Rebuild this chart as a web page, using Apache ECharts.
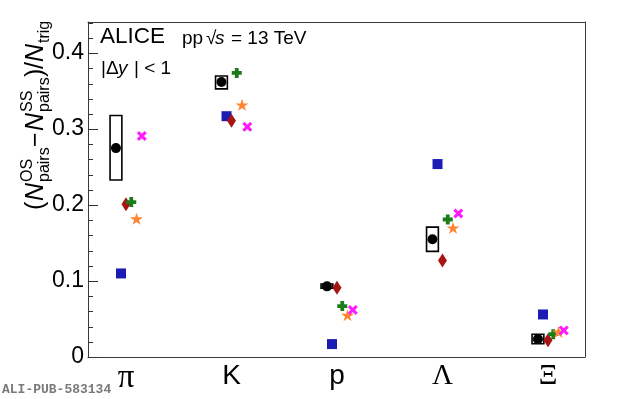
<!DOCTYPE html>
<html>
<head>
<meta charset="utf-8">
<script src="https://cdn.jsdelivr.net/npm/echarts@6/dist/echarts.min.js"></script>
<style>
html,body{margin:0;padding:0;background:#fff;}
#chart{width:620px;height:399px;}
</style>
</head>
<body>
<div id="chart"></div>
<script>
// ---- data ----
const categories = ['π', 'K', 'p', 'Λ', 'Ξ'];
const aliceData    = [0.275, 0.362, 0.093, 0.155, 0.0235];
const aliceSysLow  = [0.233, 0.353, 0.0905, 0.139, 0.0175];
const aliceSysHigh = [0.318, 0.370, 0.096, 0.171, 0.030];
const modelBlue    = [0.110, 0.317, 0.017, 0.254, 0.056];
const modelRed     = [0.201, 0.311, 0.091, 0.127, 0.022];
const modelGreen   = [0.204, 0.374, 0.067, 0.181, 0.030];
const modelOrange  = [0.182, 0.332, 0.055, 0.170, 0.033];
const modelMagenta = [0.291, 0.303, 0.062, 0.189, 0.035];
const yTickValues  = [0, 0.1, 0.2, 0.3, 0.4];
const yTickLabels  = ['0', '0.1', '0.2', '0.3', '0.4'];
const yMinorTicks  = [0.02, 0.04, 0.06, 0.08, 0.12, 0.14, 0.16, 0.18, 0.22, 0.24, 0.26, 0.28,
                      0.32, 0.34, 0.36, 0.38, 0.42, 0.44];

// ---- styling / layout ----
const xShift = 0.36;   // left margin of the x range, in category units
const xMax = 4.711, yMax = 0.441;
const offsets = { alice: -0.095, blue: -0.047, red: 0, green: 0.05, orange: 0.1, magenta: 0.15 };
const boxHalfWidth = 0.056;
const isGreek = c => /[\u0370-\u03ff]/.test(c);

function pts(vals, off) { return vals.map((v, i) => [i + xShift + off, v]); }

const plusPath = 'path://M31,0H69V31H100V69H69V100H31V69H0V31H31Z';
const xPath = 'path://M0,22L22,0L50,28L78,0L100,22L72,50L100,78L78,100L50,72L22,100L0,78L28,50Z';
const starPath = 'path://M50,0L61.17,34.63L97.55,34.55L68.07,55.87L79.39,90.45L50,69L20.61,90.45L31.93,55.87L2.45,34.55L38.83,34.63Z';

const chart = echarts.init(document.getElementById('chart'), null, { renderer: 'canvas' });

const mainF = 25, smallF = 16;
function t(text, x, y, size, italic) {
  return {
    type: 'text', x: x, y: y - 0.347 * size,
    style: {
      text: text, fill: '#000', align: 'left', verticalAlign: 'middle',
      font: (italic ? 'italic ' : '') + size + 'px "Liberation Sans"'
    }
  };
}
const supY = -12, subY = 5;
const yTitle = [
  t('(', 0, 0, mainF),
  t('N', 9, 0, mainF, true),
  t('OS', 28, supY, smallF),
  t('pairs', 28, subY, smallF),
  t('\u2212', 63, 0, mainF),
  t('N', 79, 0, mainF, true),
  t('SS', 98, supY, smallF),
  t('pairs', 98, subY, smallF),
  t(')', 133, 0, mainF),
  t('/', 141, 0, mainF),
  t('N', 148, 0, mainF, true),
  t('trig', 167, subY, smallF)
];

function txt(text, x, y, font) {
  return { type: 'text', x: x, y: y, style: { text: text, font: font, fill: '#000', verticalAlign: 'middle', align: 'left' } };
}

const scatterBase = { type: 'scatter', xAxisIndex: 0, yAxisIndex: 0, z: 2 };
const frameColor = '#3a3a3a';
const frameLine = { show: true, onZero: false, lineStyle: { color: frameColor, width: 1 } };

// y-axis ticks (major length 10, minor length 5), drawn inside the frame through the axis scale
const tickItems = yTickValues.map(v => [v, 10]).concat(yMinorTicks.map(v => [v, 5]));

const option = {
  animation: false,
  grid: { left: 88, right: 35, top: 22, bottom: 42, show: false, containLabel: false },
  xAxis: [
    {
      type: 'value', min: 0, max: xMax, position: 'bottom',
      splitLine: { show: false }, axisLine: frameLine, axisTick: { show: false },
      axisLabel: {
        customValues: categories.map((c, i) => i + xShift),
        margin: 5,
        formatter: v => {
          const c = categories[Math.round(v - xShift)];
          if (c === 'π') return '{pi|' + c + '}';
          return isGreek(c) ? '{g|' + c + '}' : '{l|' + c + '}';
        },
        rich: {
          l: { fontFamily: 'Liberation Sans', fontSize: 28, color: '#000' },
          g: { fontFamily: 'Liberation Serif', fontSize: 29, color: '#000' },
          pi: { fontFamily: 'Liberation Serif', fontSize: 33, color: '#000' }
        }
      }
    },
    {
      type: 'value', min: 0, max: xMax, position: 'top',
      splitLine: { show: false }, axisLine: frameLine, axisTick: { show: false }, axisLabel: { show: false }
    }
  ],
  yAxis: [
    {
      type: 'value', min: 0, max: yMax, interval: 0.1, position: 'left',
      splitLine: { show: false }, axisLine: frameLine,
      axisTick: { show: false },
      axisLabel: {
        showMaxLabel: false, margin: 4,
        formatter: v => { const k = yTickValues.findIndex(x => Math.abs(x - v) < 1e-6); return k < 0 ? '' : yTickLabels[k]; },
        fontFamily: 'Liberation Sans', fontSize: 23, color: '#000'
      }
    },
    {
      type: 'value', min: 0, max: yMax, position: 'right',
      splitLine: { show: false }, axisLine: frameLine, axisTick: { show: false }, axisLabel: { show: false }
    }
  ],
  graphic: [
    { type: 'group', x: 45, y: 210, rotation: Math.PI / 2, children: yTitle },
    txt('ALICE', 100, 37.2, '22.5px "Liberation Sans"'),
    txt('pp', 182, 38.7, '19px "Liberation Sans"'),
    txt('\u221A', 206, 38.7, '19px "Liberation Sans"'),
    txt('s', 215, 38.7, 'italic 19px "Liberation Sans"'),
    txt('= 13 TeV', 231, 38.7, '19px "Liberation Sans"'),
    txt('|\u0394', 101, 68.4, '19px "Liberation Sans"'),
    txt('y', 118, 68.4, 'italic 19px "Liberation Sans"'),
    txt('| < 1', 134, 68.4, '19px "Liberation Sans"'),
    { type: 'text', x: 2, y: 389.5, style: { text: 'ALI-PUB-583134', font: 'bold 13px "Liberation Mono"', fill: '#7a7a7a', verticalAlign: 'middle' } }
  ],
  series: [
    {
      type: 'custom', name: 'y ticks', xAxisIndex: 0, yAxisIndex: 0, z: 10, silent: true, clip: false,
      data: tickItems.map(d => [0, d[0], d[1]]),
      encode: { x: 0, y: 1 },
      renderItem: (params, api) => {
        const p = api.coord([0, api.value(1)]);
        const len = api.value(2);
        const y = Math.round(p[1]) + 0.5;
        return { type: 'line', shape: { x1: p[0], y1: y, x2: p[0] + len, y2: y },
                 style: { stroke: '#333', lineWidth: 1 } };
      }
    },
    {
      type: 'custom', name: 'ALICE sys', xAxisIndex: 0, yAxisIndex: 0, z: 1,
      data: aliceData.map((v, i) => [i + xShift + offsets.alice, aliceSysLow[i], aliceSysHigh[i]]),
      encode: { x: 0, y: [1, 2] },
      renderItem: (params, api) => {
        const x = api.value(0), lo = api.value(1), hi = api.value(2);
        const p1 = api.coord([x - boxHalfWidth, hi]);
        const p2 = api.coord([x + boxHalfWidth, lo]);
        return { type: 'rect', shape: { x: p1[0], y: p1[1], width: p2[0] - p1[0], height: p2[1] - p1[1] },
                 style: { fill: 'none', stroke: '#000', lineWidth: 1.6 } };
      }
    },
    Object.assign({}, scatterBase, { name: 'ALICE', symbol: 'circle', symbolSize: 10, itemStyle: { color: '#000', opacity: 1 }, data: pts(aliceData, offsets.alice) }),
    Object.assign({}, scatterBase, { name: 'blue', symbol: 'rect', symbolSize: 10, itemStyle: { color: '#1c1cb4', opacity: 1 }, data: pts(modelBlue, offsets.blue) }),
    Object.assign({}, scatterBase, { name: 'red', symbol: 'diamond', symbolSize: [9, 14], itemStyle: { color: '#a81414', opacity: 1 }, data: pts(modelRed, offsets.red) }),
    Object.assign({}, scatterBase, { name: 'green', symbol: plusPath, symbolSize: 10, itemStyle: { color: '#1a7d1a', opacity: 1 }, data: pts(modelGreen, offsets.green) }),
    Object.assign({}, scatterBase, { name: 'orange', symbol: starPath, symbolSize: [13, 12], itemStyle: { color: '#ff8533', opacity: 1 }, data: pts(modelOrange, offsets.orange) }),
    Object.assign({}, scatterBase, { name: 'magenta', symbol: xPath, symbolSize: 10, itemStyle: { color: '#ff1aff', opacity: 1 }, data: pts(modelMagenta, offsets.magenta) })
  ]
};
chart.setOption(option);
</script>
</body>
</html>
